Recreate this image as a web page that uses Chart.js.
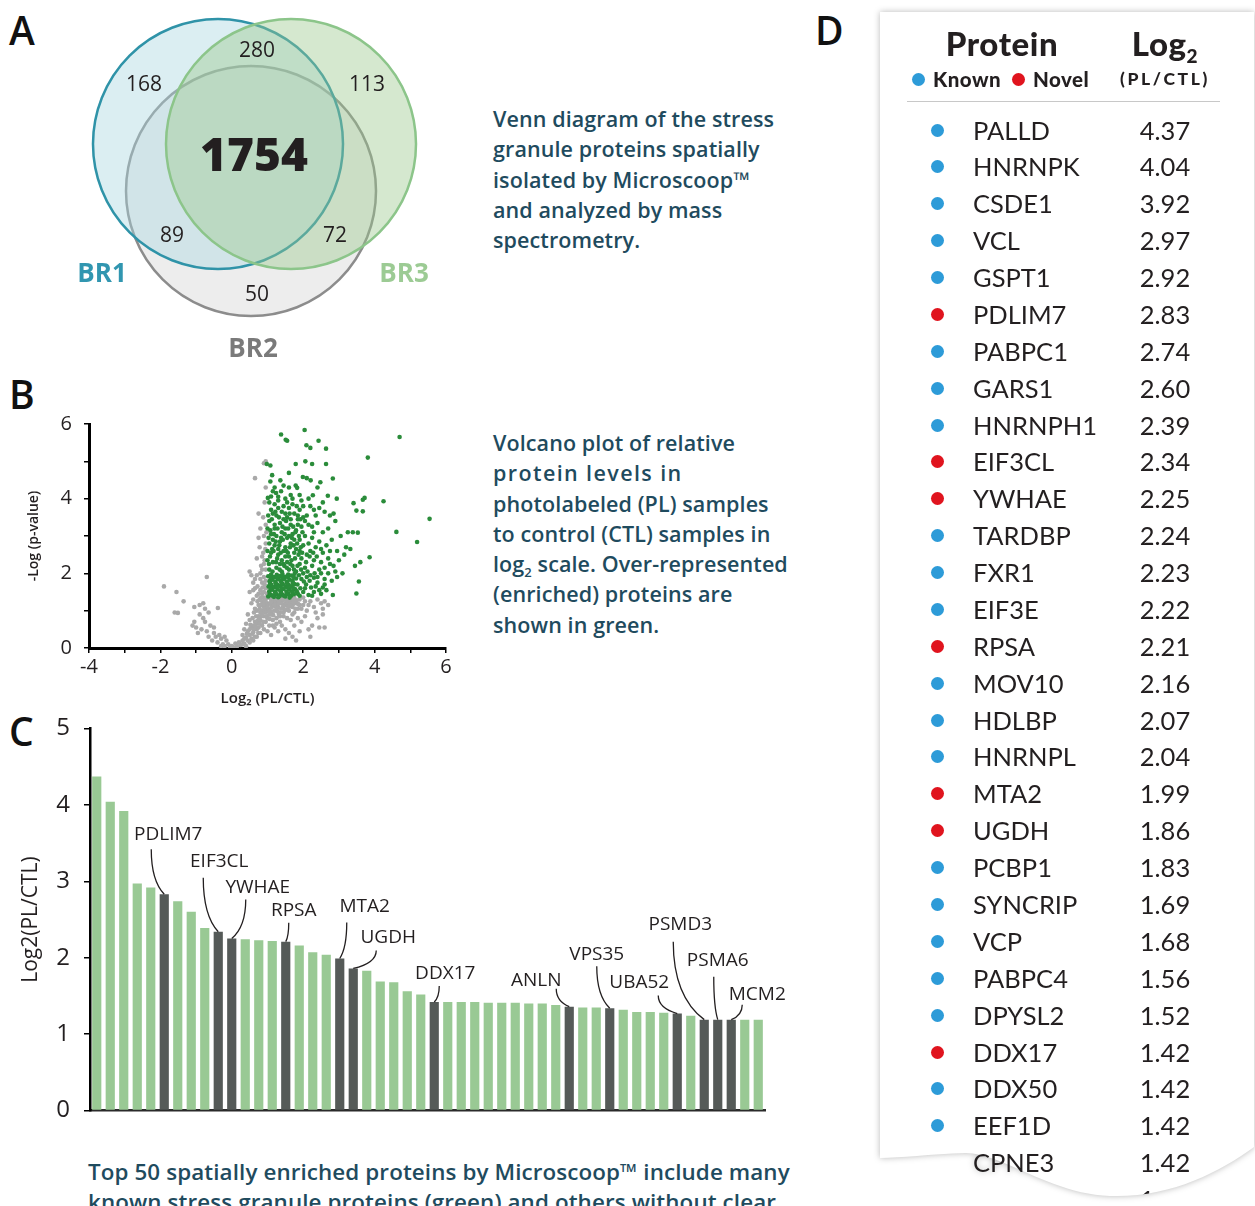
<!DOCTYPE html>
<html>
<head>
<meta charset="utf-8">
<script src="https://cdn.jsdelivr.net/npm/chart.js@4.4.1/dist/chart.umd.min.js"></script>
<style>
  body { margin: 0; width: 1255px; height: 1206px; background: #fff; position: relative; overflow: hidden; font-family: Lato, 'Open Sans', sans-serif; }
  canvas { position: absolute; }
  .letter { position: absolute; font: 600 39px/38px 'Open Sans', sans-serif; color: #111; }
  .note { position: absolute; color: #1f4b5e; font: 600 21.5px/30.3px 'Open Sans', sans-serif; letter-spacing: 0.1px; white-space: nowrap; }
  .card-wrap { position: absolute; left: 880px; top: 12px; width: 374px; height: 1194px; filter: drop-shadow(0 0 3px rgba(0,0,0,0.28)); }
  .card-bg { position: absolute; inset: 0; background: #fff;
    clip-path: path('M0,0 H374 V1135 C340,1160 290,1186 230,1184 C170,1182 120,1140 85,1141 C50,1142 20,1146 0,1146 Z'); }
  .card-content { position: absolute; inset: 0; color: #231f20;
    clip-path: path('M0,0 H374 V1135 C340,1160 290,1186 230,1184 C180,1182 150,1172 110,1170 L90,1170 L80,1142 L0,1142 Z'); }
  .hdr { position: absolute; font-weight: 900; font-size: 33px; line-height: 36px; text-align: center; letter-spacing: 0.6px; }
  .hdr sub { font-size: 19px; vertical-align: -7px; }
  .legend { position: absolute; left: 32px; top: 55px; font-weight: 900; font-size: 20.5px; line-height: 24px; letter-spacing: 0.5px; white-space: nowrap; }
  .legend .dot { display: inline-block; width: 13px; height: 13px; border-radius: 50%; margin: 0 8px 0 0; vertical-align: 1px; }
  .unit { position: absolute; left: 215px; top: 55px; width: 140px; text-align: center; font-weight: 900; font-size: 17.5px; letter-spacing: 2.6px; line-height: 24px; }
  .rule { position: absolute; left: 27px; top: 89px; width: 313px; height: 1px; background: #c8c8c8; }
  .row { position: absolute; left: 0; width: 374px; height: 37px; line-height: 37px; font-size: 25.5px; }
  .row .dot { position: absolute; left: 51px; top: 12px; width: 13px; height: 13px; border-radius: 50%; }
  .row .name { position: absolute; left: 93px; }
  .row .val { position: absolute; left: 240px; width: 90px; text-align: center; }
</style>
</head>
<body>

<div class="letter" style="left:9px;top:11px">A</div>
<div class="letter" style="left:9px;top:375px">B</div>
<div class="letter" style="left:9px;top:712px">C</div>
<div class="letter" style="left:815px;top:11px">D</div>

<canvas id="venn" width="470" height="370" style="left:0;top:0"></canvas>
<canvas id="volcano" width="470" height="320" style="left:0;top:400px"></canvas>
<canvas id="bars" width="800" height="439" style="left:0;top:700px"></canvas>

<div class="note" style="left:493px;top:104px">Venn diagram of the stress<br>granule proteins spatially<br>isolated by Microscoop™<br>and analyzed by mass<br>spectrometry.</div>
<div class="note" style="left:493px;top:428px">Volcano plot of relative<br><span style="letter-spacing:1.4px">protein levels in</span><br>photolabeled (PL) samples<br>to control (CTL) samples in<br>log<sub style="font-size:13px;line-height:0">2</sub> scale. Over-represented<br>(enriched) proteins are<br>shown in green.</div>
<div class="note" style="left:88px;top:1157px;font-size:22.4px">Top 50 spatially enriched proteins by Microscoop™ include many<br>known stress granule proteins (green) and others without clear</div>

<div class="card-wrap">
  <div class="card-bg"></div>
  <div class="card-content" id="table">
    <div class="hdr" style="left:32px;top:13px;width:180px">Protein</div>
    <div class="hdr" style="left:215px;top:13px;width:140px">Log<sub>2</sub></div>
    <div class="legend"><span class="dot" style="background:#2d9bd8"></span>Known&nbsp;&nbsp;<span class="dot" style="background:#e0141e"></span>Novel</div>
    <div class="unit">(PL/CTL)</div>
    <div class="rule"></div>
  </div>
</div>

<script>
// ---------- data ----------
const vennSets = ['BR1', 'BR2', 'BR3'];
// regions: BR1 only, BR1∩BR3, BR3 only, BR1∩BR2, all three, BR2∩BR3, BR2 only
const vennCounts = [168, 280, 113, 89, 1754, 72, 50];

// volcano plot: [log2(PL/CTL), -log(p)]
const volcanoGrey = [
  [0.95,5.0],[0.9,4.95],[0.65,4.55],[0.95,4.3],[0.92,3.9],[0.75,3.6],[0.88,3.5],[0.95,3.3],[0.8,3.2],[0.9,3.0],
  [0.95,2.8],[0.78,2.7],[0.88,2.55],[0.7,2.4],[0.92,2.35],[0.5,2.05],[0.55,1.95],[0.65,1.85],[0.8,2.0],[0.95,2.1],
  [0.6,1.75],[0.72,1.65],[0.85,1.75],[0.95,1.6],[0.9,1.9],
  [0.05,0.02],[0.15,0.05],[0.1,0.12],[0.2,0.15],[0.25,0.08],[0.3,0.2],[0.35,0.12],[0.4,0.28],[0.45,0.2],[0.5,0.35],
  [0.55,0.25],[0.6,0.42],[0.65,0.3],[0.7,0.5],[0.45,0.45],[0.55,0.55],[0.6,0.6],[0.65,0.7],[0.7,0.65],[0.75,0.55],
  [0.8,0.75],[0.85,0.6],[0.9,0.85],[0.75,0.85],[0.8,0.95],[0.85,1.0],[0.9,1.1],[0.95,0.95],[1.0,0.8],[1.05,1.05],
  [1.1,0.9],[1.15,1.15],[1.2,1.0],[1.25,1.25],[1.3,1.1],[1.35,0.95],[1.4,1.2],[1.45,1.05],[1.5,1.3],[1.55,1.15],
  [1.6,1.0],[1.65,1.25],[1.7,1.1],[1.75,0.95],[1.8,1.2],[1.85,1.05],[1.9,1.3],[2.0,1.15],[2.1,1.0],[2.2,1.25],
  [2.3,1.1],[2.4,1.3],[2.5,1.2],[2.55,1.05],[0.7,1.0],[0.75,1.15],[0.65,1.05],[0.85,1.25],[0.95,1.3],[1.0,1.2],
  [0.95,0.7],[1.05,0.6],[1.15,0.75],[1.25,0.8],[1.35,0.7],[1.45,0.85],[1.55,0.8],[1.65,0.75],[1.75,0.6],[1.85,0.8],
  [1.95,0.7],[2.05,0.85],[1.2,0.55],[1.3,0.45],[1.4,0.6],[1.0,0.45],[0.9,0.5],[1.1,0.35],[0.8,0.4],[0.7,0.3],
  [1.5,0.5],[1.6,0.4],[2.15,0.5],[2.25,0.6],[2.45,0.55],[2.2,0.3],[0.6,1.3],[0.7,1.4],[0.85,1.45],[0.8,1.55],
  [0.5,1.5],[0.65,1.6],[0.55,1.2],[0.45,0.9],[0.5,0.75],[0.35,0.5],[0.4,0.65],[0.3,0.35],[1.3,1.3],[1.1,1.3],
  [1.6,1.3],[1.75,1.35],[2.0,1.35],[2.6,1.25],[2.7,1.15],[2.55,0.9],[2.4,0.8],[2.6,0.55],[2.35,0.95],[1.7,0.3],
  [1.5,0.25],[1.9,0.45],[1.8,0.2],[1.05,1.35],[1.2,1.3],[1.4,1.33],[0.98,1.45],[0.92,1.25],[1.12,1.1],[1.28,0.98],
  [0.3,0.1],[0.4,0.05],[0.5,0.15],[0.6,0.2],[0.35,0.25],[0.5,0.5],[0.62,0.5],[0.72,0.72],[0.78,0.65],[0.82,0.85],
  [0.88,0.7],[0.92,0.98],[0.97,0.85],[1.02,1.0],[1.08,1.18],[1.12,0.98],[1.18,1.22],[1.22,1.12],[1.28,1.18],[1.32,1.25],
  [1.38,1.05],[1.42,1.28],[1.48,1.15],[1.52,1.22],[1.58,1.1],[1.62,1.2],[1.68,1.3],[1.72,1.18],[1.78,1.05],[1.82,1.28],
  [0.68,0.85],[0.62,0.95],[0.58,0.8],[0.72,1.25],[0.78,1.05],[0.82,1.15],[0.9,1.35],[0.98,1.15],[1.05,0.9],[1.15,0.6],
  [1.25,0.65],[1.35,0.85],[1.45,0.95],[1.9,1.15],[2.05,1.25],[2.15,1.15],[0.82,2.2],[0.9,2.25],[0.85,2.45],[0.94,2.65],
  [0.75,2.95],[0.97,3.1],[0.85,2.1],[0.7,1.95],[0.6,1.55],[0.75,1.45],[0.9,1.5],[0.95,1.8],
  [0.42,0.38],[0.52,0.62],[0.58,0.38],[0.66,0.58],[0.74,0.4],[0.76,0.78],[0.84,0.92],[0.88,1.18],[0.94,1.05],[1.0,1.1],
  [1.06,0.78],[1.1,1.22],[1.16,0.88],[1.2,1.15],[1.26,1.05],[1.32,0.9],[1.36,1.2],[1.44,1.12],[1.5,1.02],[1.56,1.28],
  [1.64,1.12],[1.7,0.9],[1.76,1.25],[1.86,1.18],[1.95,1.05],[0.82,1.35],[0.78,1.3],[0.86,1.62],[0.92,1.7],[0.8,1.85],
  [-1.9,1.65],[-1.55,1.5],[-1.6,0.95],[-1.35,1.25],[-0.7,1.9],[-1.05,1.1],[-0.9,1.15],[-0.75,1.05],[-0.65,0.95],[-0.8,0.8],
  [-0.9,0.9],[-1.05,0.7],[-1.0,0.55],[-0.85,0.5],[-0.7,0.45],[-0.6,0.6],[-0.5,0.4],[-0.45,0.3],[-0.4,0.15],[-0.3,0.25],
  [-0.25,0.1],[-0.2,0.05],[-0.1,0.1],[-0.05,0.03],[-0.55,0.2],[-0.35,0.35],[-0.15,0.2],[-0.65,0.3],[-0.95,0.4],[-1.1,0.6],
  [0.0,0.05],[-0.5,0.55],[-0.75,0.7],[-0.2,0.3],[-0.3,0.05],[-0.39,1.07],[-0.8,1.2],[-1.51,0.94]
];
const volcanoGreen = [
  [1.38,5.72],[2.04,5.84],[1.51,5.58],[1.55,5.55],[2.09,5.43],[2.20,5.36],[2.43,5.55],[2.64,5.34],[4.70,5.65],[3.81,5.10],
  [0.98,4.93],[1.08,4.89],[1.79,4.93],[2.06,5.00],[2.25,4.93],[2.64,4.93],[1.60,4.69],[1.13,4.63],[1.36,4.49],[1.08,4.46],
  [1.99,4.58],[2.10,4.55],[2.21,4.49],[2.48,4.44],[2.83,4.54],[1.79,4.35],[1.83,4.29],[1.15,4.20],[1.24,4.15],[1.10,4.06],
  [1.38,4.20],[1.01,4.02],[2.27,4.09],[2.69,4.08],[2.94,4.00],[3.41,3.88],[3.67,3.97],[3.72,4.02],[4.25,3.93],[3.49,3.68],
  [3.67,3.66],[5.54,3.46],[4.61,3.11],[5.19,2.84],[3.86,2.43],[3.56,1.78],[3.49,1.46],[2.83,1.42],[3.25,3.10],[3.39,3.10],
  [3.53,3.09],[3.20,2.70],[3.32,2.65],[3.60,2.30],[3.45,2.20],[3.00,2.35],[3.10,2.00],[2.95,1.90],
  [1.05,3.9],[1.2,3.85],[1.3,3.95],[1.45,3.8],[1.6,3.75],[1.7,3.85],[1.9,3.7],[2.0,3.8],[1.15,3.6],[1.25,3.55],
  [1.4,3.65],[1.55,3.5],[1.75,3.6],[1.85,3.45],[2.1,3.55],[2.3,3.7],[2.45,3.75],[2.6,3.65],[2.75,3.55],[1.05,3.4],
  [1.2,3.3],[1.35,3.35],[1.5,3.2],[1.65,3.3],[1.8,3.15],[1.95,3.25],[2.15,3.3],[2.4,3.35],[2.55,3.1],[2.7,3.2],
  [2.9,3.4],[1.1,3.05],[1.25,3.0],[1.4,3.1],[1.55,2.95],[1.7,3.05],[1.9,2.9],[2.05,3.0],[2.25,2.95],[2.45,2.85],
  [2.65,2.75],[2.8,2.9],[1.05,2.8],[1.2,2.75],[1.35,2.85],[1.5,2.7],[1.65,2.8],[1.8,2.65],[2.0,2.75],[2.2,2.6],
  [2.35,2.7],[2.55,2.55],[2.75,2.6],[1.1,2.55],[1.3,2.5],[1.45,2.6],[1.6,2.45],[1.75,2.55],[1.95,2.4],[2.1,2.5],
  [2.3,2.35],[2.5,2.3],[2.7,2.4],[1.0,2.35],[1.15,2.3],[1.35,2.25],[1.55,2.3],[1.7,2.2],[1.9,2.25],[2.05,2.15],
  [2.25,2.2],[2.45,2.1],[2.6,2.15],[2.85,2.2],[1.05,2.1],[1.25,2.15],[1.4,2.05],[1.6,2.1],[1.8,2.05],[2.0,2.0],
  [2.2,1.95],[2.4,1.9],[2.6,1.85],[2.8,1.8],[1.1,3.7],[1.3,3.75],[1.5,3.6],[1.65,3.45],[1.85,3.55],[2.05,3.4],
  [1.2,3.2],[1.45,3.45],[1.6,3.0],[1.75,2.9],[1.3,2.65],[1.5,2.45],[1.9,2.6],[1.15,2.9],[1.4,2.35],[2.15,2.8],
  [1.0,3.2],[1.0,2.6],[2.3,3.1],[2.5,2.65],[2.0,3.5],[1.85,3.3],[2.15,4.0],[1.9,4.1],[1.5,4.0],[1.65,4.1],
  [2.4,4.3],[2.55,3.9],[2.85,3.6],[3.05,3.0],[3.15,2.5],[2.95,2.6],
  [1.02,3.55],[1.12,3.45],[1.22,3.65],[1.32,3.5],[1.42,3.25],[1.52,3.4],[1.62,3.6],[1.72,3.25],[1.82,3.8],[1.92,3.45],
  [1.08,3.15],[1.18,3.05],[1.28,3.2],[1.38,2.95],[1.48,3.05],[1.58,3.2],[1.68,2.95],[1.78,3.1],[1.88,3.0],[1.98,3.1],
  [1.03,2.95],[1.13,2.65],[1.23,2.85],[1.33,2.75],[1.43,2.9],[1.53,2.6],[1.63,2.7],[1.73,2.75],[1.83,2.8],[1.93,2.7],
  [1.07,2.45],[1.17,2.6],[1.27,2.4],[1.37,2.55],[1.47,2.2],[1.57,2.55],[1.67,2.35],[1.77,2.4],[1.87,2.5],[1.97,2.55],
  [1.04,2.25],[1.14,2.05],[1.24,2.3],[1.34,2.1],[1.44,2.25],[1.54,2.15],[1.64,2.25],[1.74,2.1],[1.84,2.2],[1.94,2.1],
  [2.08,2.3],[2.18,2.45],[2.28,2.55],[2.38,2.45],[2.12,2.05],[2.32,2.0],[2.5,2.0],[2.7,2.0],[2.9,2.05],[2.75,2.25],
  [1.2,4.3],[1.45,4.35],[1.6,4.3],[1.7,4.0],[1.3,4.05],[1.55,3.9],[1.95,3.95],[2.2,3.8],[2.35,3.55],[2.25,3.25],
  [1.02,1.38],[1.1,1.42],[1.18,1.37],[1.26,1.44],[1.34,1.39],[1.42,1.43],[1.5,1.38],[1.58,1.45],[1.66,1.4],[1.74,1.44],
  [1.05,1.52],[1.13,1.56],[1.21,1.5],[1.29,1.57],[1.37,1.52],[1.45,1.58],[1.53,1.51],[1.61,1.56],[1.69,1.52],[1.78,1.57],
  [1.03,1.65],[1.11,1.69],[1.19,1.63],[1.27,1.7],[1.35,1.66],[1.43,1.71],[1.51,1.64],[1.59,1.7],[1.67,1.65],[1.75,1.71],
  [1.06,1.79],[1.14,1.83],[1.22,1.77],[1.3,1.84],[1.38,1.79],[1.46,1.85],[1.54,1.78],[1.62,1.83],[1.7,1.8],[1.8,1.86],
  [1.02,1.92],[1.1,1.97],[1.18,1.9],[1.26,1.96],[1.34,1.93],[1.42,1.98],[1.5,1.91],[1.58,1.97],[1.66,1.94],[1.76,1.99],
  [1.06,1.45],[1.22,1.47],[1.38,1.46],[1.54,1.44],[1.7,1.48],[1.09,1.6],[1.25,1.62],[1.41,1.6],[1.57,1.62],[1.73,1.6],
  [1.07,1.74],[1.23,1.73],[1.39,1.74],[1.55,1.72],[1.71,1.75],[1.09,1.88],[1.25,1.89],[1.41,1.88],[1.57,1.9],[1.73,1.9],
  [1.14,1.4],[1.46,1.4],[1.62,1.35],[1.3,1.36],[1.82,1.52],[1.84,1.7],[1.88,1.95],[2.02,1.78],[2.18,1.8],[2.25,1.4],
  [2.35,1.65],[2.6,1.7],[2.05,1.6],[1.9,1.4],
  [1.85,1.45],[1.92,1.6],[2.0,1.5],[2.08,1.7],[2.15,1.42],[2.22,1.62],[2.3,1.5],[2.4,1.75],[2.5,1.45],[2.55,1.62],
  [1.95,1.85],[2.1,1.9],[2.3,1.88],[2.65,1.55],[2.45,1.55]
];

// top 50 enriched proteins, log2(PL/CTL)
const barValues = [
  4.37, 4.04, 3.92, 2.97, 2.92, 2.83, 2.74, 2.60, 2.39, 2.34,
  2.25, 2.24, 2.23, 2.22, 2.21, 2.16, 2.07, 2.04, 1.99, 1.86,
  1.83, 1.69, 1.68, 1.56, 1.52, 1.42, 1.42, 1.42, 1.42, 1.41,
  1.41, 1.41, 1.40, 1.40, 1.38, 1.36, 1.35, 1.35, 1.34, 1.32,
  1.29, 1.29, 1.28, 1.27, 1.24, 1.19, 1.19, 1.19, 1.19, 1.19
];
const barRanks = barValues.map((v, i) => String(i + 1));
// novel proteins called out on the bar chart: [name, rank]
const barCallouts = [
  ['PDLIM7', 6], ['EIF3CL', 10], ['YWHAE', 11], ['RPSA', 15], ['MTA2', 19], ['UGDH', 20], ['DDX17', 26],
  ['ANLN', 36], ['VPS35', 39], ['UBA52', 44], ['PSMD3', 46], ['PSMA6', 47], ['MCM2', 48]
];

// table panel D (values come from barValues by rank)
const tableNames = [
  'PALLD', 'HNRNPK', 'CSDE1', 'VCL', 'GSPT1', 'PDLIM7', 'PABPC1', 'GARS1', 'HNRNPH1', 'EIF3CL',
  'YWHAE', 'TARDBP', 'FXR1', 'EIF3E', 'RPSA', 'MOV10', 'HDLBP', 'HNRNPL', 'MTA2', 'UGDH',
  'PCBP1', 'SYNCRIP', 'VCP', 'PABPC4', 'DPYSL2', 'DDX17', 'DDX50', 'EEF1D', 'CPNE3', ''
];

// ---------- layout / style ----------
const FONT = "'Open Sans', sans-serif";
const INK = '#231f20';
const GREEN_BAR = '#99c994';
const DARK_BAR = '#555a58';
// venn circle centres in canvas px and label anchors
const vennCircles = { BR1: [218, 144], BR2: [251, 191], BR3: [291, 144] };
const vennRadius = 125;
const vennCountPos = [[144, 85], [257, 51], [367, 85], [172, 236], [254, 158], [335, 236], [257, 295]];
const vennSetLabelPos = { BR1: [102, 275], BR2: [253, 350], BR3: [404, 275] };
// callout text offset and leader start, relative to the bar top
const calloutLayout = [
  [4, -60, -13, -45], [1, -70, -15, -54], [26, -51, 14, -39], [8, -31, 3, -19], [25, -52, 7, -36],
  [35, -31, 23, -18], [11, -28, 5, -16], [-33, -26, -13, -18], [-13, -54, -13, -42], [-38, -31, -19, -18],
  [-24, -95, -31, -78], [0, -59, -4, -43], [26, -25, 11, -15]
];

// ---------- A: venn ----------
const vennStyle = {
  BR1: { fill: 'rgba(170,215,225,0.42)', line: '#2f93a8', text: '#3196b0' },
  BR2: { fill: 'rgba(175,175,175,0.22)', line: '#8c8c8c', text: '#7a7a7a' },
  BR3: { fill: 'rgba(155,200,140,0.42)', line: '#8cc58a', text: '#9ccb94' }
};

const vennTextPlugin = {
  id: 'vennText',
  afterDatasetsDraw(chart) {
    const { ctx, scales: { x, y } } = chart;
    ctx.save();
    ctx.textAlign = 'center';
    ctx.textBaseline = 'middle';
    ctx.fillStyle = INK;
    vennCounts.forEach((n, i) => {
      const [px, py] = vennCountPos[i];
      ctx.font = n === 1754 ? `800 46px ${FONT}` : `400 21px ${FONT}`;
      ctx.fillText(String(n), x.getPixelForValue(px), y.getPixelForValue(py));
    });
    ctx.font = `700 26px ${FONT}`;
    vennSets.forEach(s => {
      const [px, py] = vennSetLabelPos[s];
      ctx.fillStyle = vennStyle[s].text;
      ctx.fillText(s, x.getPixelForValue(px), y.getPixelForValue(py));
    });
    ctx.restore();
  }
};

new Chart(document.getElementById('venn'), {
  type: 'bubble',
  data: {
    datasets: ['BR3', 'BR1', 'BR2'].map(s => ({
      label: s,
      data: [{ x: vennCircles[s][0], y: vennCircles[s][1], r: vennRadius }],
      backgroundColor: vennStyle[s].fill,
      borderColor: vennStyle[s].line,
      borderWidth: 2.5,
      clip: false
    }))
  },
  options: {
    responsive: false,
    animation: false,
    events: [],
    layout: { padding: 0, autoPadding: false },
    scales: {
      x: { type: 'linear', display: false, min: 0, max: 470 },
      y: { type: 'linear', display: false, min: 0, max: 370, reverse: true }
    },
    plugins: { legend: { display: false }, tooltip: { enabled: false } }
  },
  plugins: [vennTextPlugin]
});

// ---------- B: volcano ----------
const toXY = arr => arr.map(([x, y]) => ({ x, y }));

new Chart(document.getElementById('volcano'), {
  type: 'scatter',
  data: {
    datasets: [
      { label: 'enriched', data: toXY(volcanoGreen), backgroundColor: '#2a8c3a', pointRadius: 2.3, borderWidth: 0 },
      { label: 'other', data: toXY(volcanoGrey), backgroundColor: '#a9a9a9', pointRadius: 2.3, borderWidth: 0 }
    ]
  },
  options: {
    responsive: false,
    animation: false,
    events: [],
    layout: { padding: { left: 0, right: 24, top: 23, bottom: 0 }, autoPadding: false },
    scales: {
      x: {
        type: 'linear', min: -4, max: 6,
        afterFit: s => { s.height = 72; },
        ticks: { stepSize: 1, padding: 2, color: INK, font: { family: FONT, size: 20 },
                 callback: v => (v % 2 === 0 ? String(v) : '') },
        grid: { drawOnChartArea: false, tickLength: 5, color: '#000', lineWidth: 1.5 },
        border: { color: '#000', width: 3 },
        title: { display: true, text: 'Log₂ (PL/CTL)', color: INK, font: { family: FONT, size: 15, weight: '600' },
                 padding: { top: 0, bottom: 12 } }
      },
      y: {
        type: 'linear', min: 0, max: 6,
        afterFit: s => { s.width = 89; },
        ticks: { stepSize: 1, padding: 12, color: INK, font: { family: FONT, size: 20 },
                 callback: v => (v % 2 === 0 ? String(v) : '') },
        grid: { drawOnChartArea: false, tickLength: 5, color: '#000', lineWidth: 1.5 },
        border: { color: '#000', width: 3 },
        title: { display: true, text: '-Log (p-value)', color: INK, font: { family: FONT, size: 14, weight: '600' },
                 padding: { top: 26, bottom: 0 } }
      }
    },
    plugins: { legend: { display: false }, tooltip: { enabled: false } }
  }
});

// ---------- C: bars ----------
const novelRanks = new Set(barCallouts.map(c => c[1]));

const calloutPlugin = {
  id: 'callouts',
  afterDatasetsDraw(chart) {
    const ctx = chart.ctx;
    const meta = chart.getDatasetMeta(0);
    ctx.save();
    ctx.font = `400 19px ${FONT}`;
    ctx.fillStyle = INK;
    ctx.strokeStyle = INK;
    ctx.lineWidth = 1.3;
    ctx.textAlign = 'center';
    ctx.textBaseline = 'middle';
    barCallouts.forEach(([name, rank], k) => {
      const bar = meta.data[rank - 1];
      const [tdx, tdy, ldx, ldy] = calloutLayout[k];
      ctx.fillText(name, bar.x + tdx, bar.y + tdy);
      const sx = bar.x + ldx, sy = bar.y + ldy;
      ctx.beginPath();
      ctx.moveTo(sx, sy);
      ctx.quadraticCurveTo(sx, sy + (bar.y - sy) * 0.7, bar.x, bar.y);
      ctx.stroke();
    });
    ctx.restore();
  }
};

new Chart(document.getElementById('bars'), {
  type: 'bar',
  data: {
    labels: barRanks,
    datasets: [{
      label: 'Log2(PL/CTL)',
      data: barValues,
      backgroundColor: barValues.map((v, i) => (novelRanks.has(i + 1) ? DARK_BAR : GREEN_BAR)),
      borderWidth: 0,
      barPercentage: 0.68,
      categoryPercentage: 1
    }]
  },
  options: {
    responsive: false,
    animation: false,
    events: [],
    layout: { padding: { left: 0, right: 35, top: 27, bottom: 0 }, autoPadding: false },
    scales: {
      x: {
        afterFit: s => { s.height = 15; },
        ticks: { display: false },
        grid: { display: false },
        border: { color: '#2b2b2b', width: 2.5 }
      },
      y: {
        min: 0, max: 5,
        afterFit: s => { s.width = 90; },
        ticks: { stepSize: 1, padding: 14, color: INK, font: { family: FONT, size: 24 } },
        grid: { drawOnChartArea: false, tickLength: 6, color: '#000', lineWidth: 1.5 },
        border: { color: '#000', width: 2.5 },
        title: { display: true, text: 'Log2(PL/CTL)', color: INK, font: { family: FONT, size: 21 },
                 padding: { top: 18, bottom: 0 } }
      }
    },
    plugins: { legend: { display: false }, tooltip: { enabled: false } }
  },
  plugins: [calloutPlugin]
});

// ---------- D: table ----------
const table = document.getElementById('table');
tableNames.forEach((name, i) => {
  const row = document.createElement('div');
  row.className = 'row';
  row.style.top = (118 - 18.5 + i * 36.88) + 'px';
  const novel = novelRanks.has(i + 1);
  row.innerHTML =
    (name ? `<span class="dot" style="background:${novel ? '#e0141e' : '#2d9bd8'}"></span>` : '') +
    `<span class="name">${name}</span><span class="val">${barValues[i].toFixed(2)}</span>`;
  table.appendChild(row);
});
</script>
</body>
</html>
